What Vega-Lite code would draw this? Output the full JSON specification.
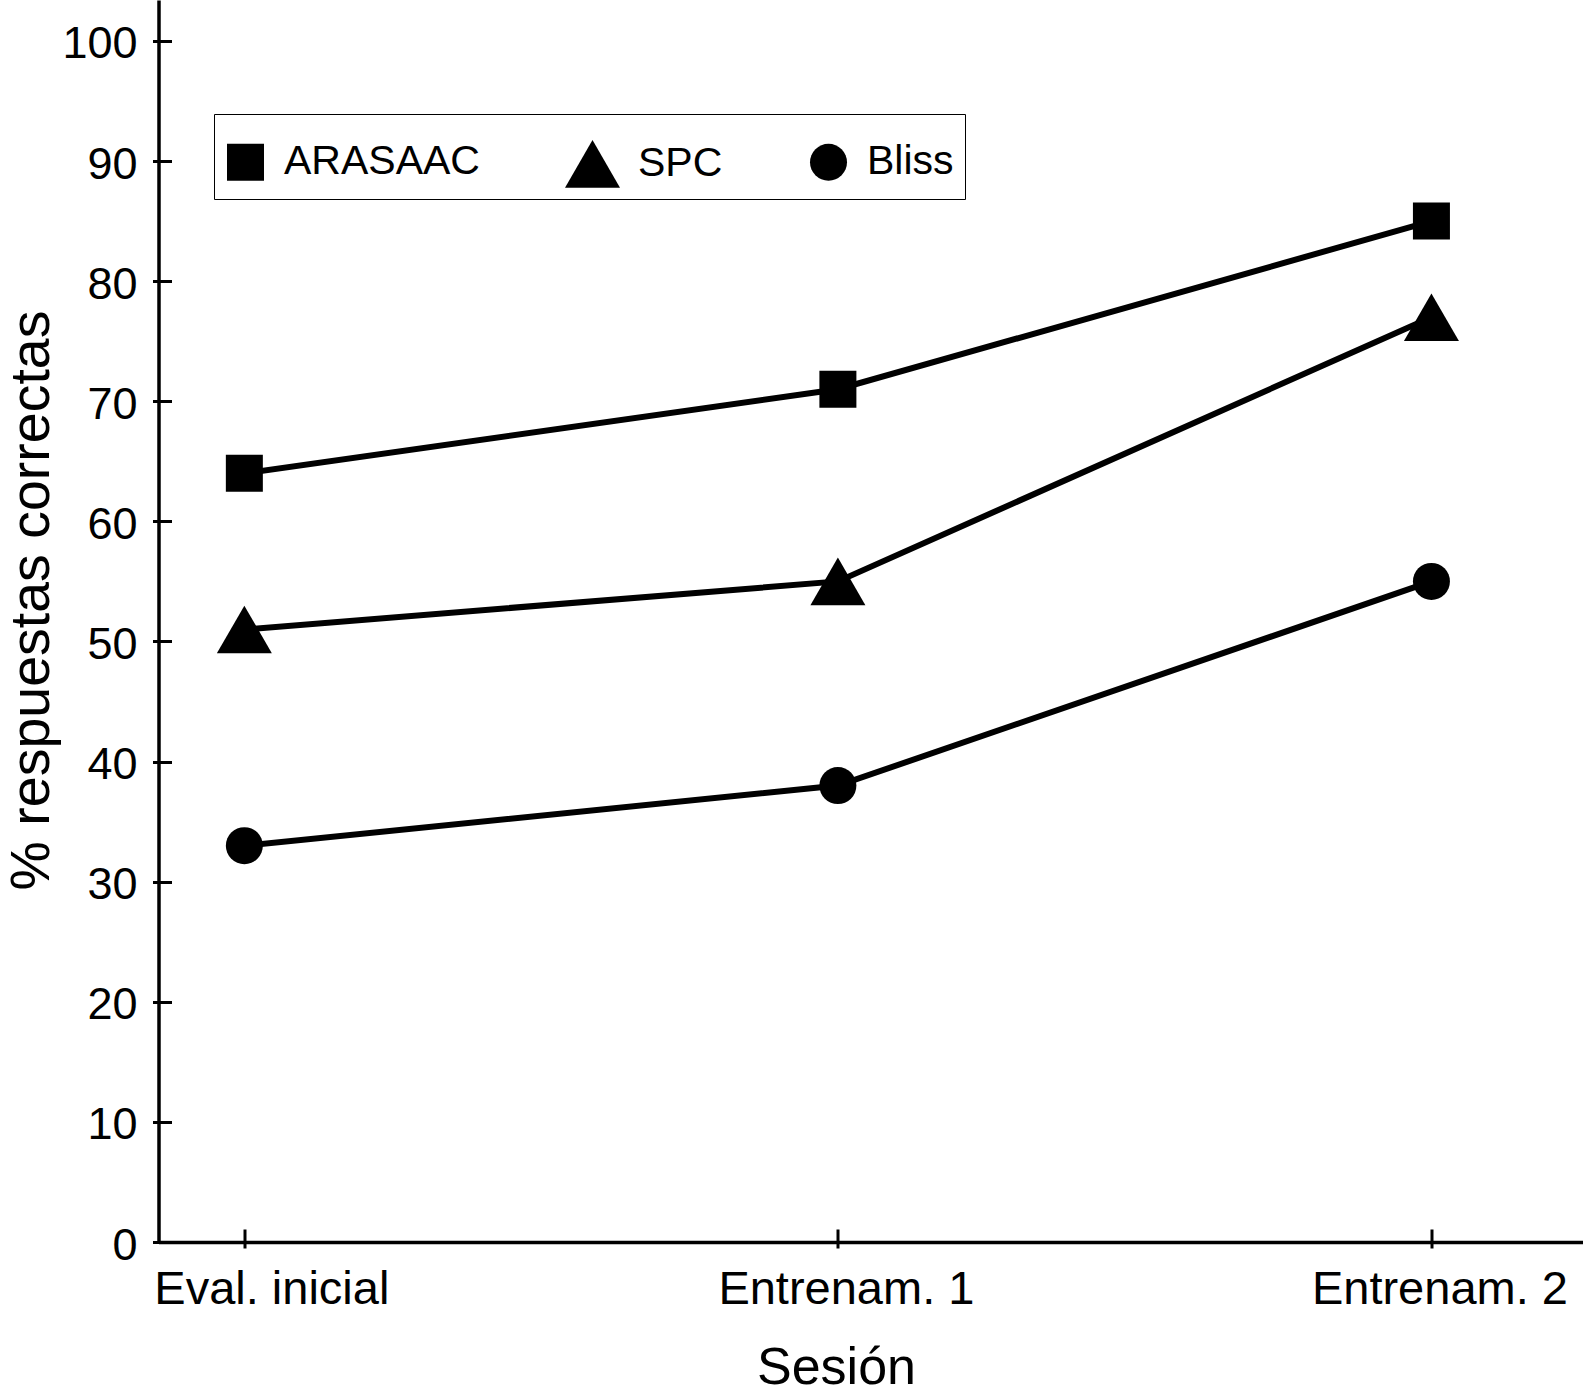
{
  "$schema": "https://vega.github.io/schema/vega-lite/v6.json",
  "width": 1424.5,
  "height": 1242,
  "autosize": {"type": "none"},
  "padding": {"left": 158.5, "top": 0, "right": 0, "bottom": 154},
  "background": "white",
  "config": {
    "view": {"stroke": null},
    "font": "Liberation Sans",
    "axis": {"grid": false, "domainColor": "black", "tickColor": "black", "labelColor": "black", "titleColor": "black", "labelFont": "Liberation Sans", "titleFont": "Liberation Sans", "titleFontWeight": "normal", "labelLimit": 0}
  },
  "data": {
    "values": [
      {"sesion": "Eval. inicial", "serie": "ARASAAC", "pct": 64},
      {"sesion": "Entrenam. 1", "serie": "ARASAAC", "pct": 71},
      {"sesion": "Entrenam. 2", "serie": "ARASAAC", "pct": 85},
      {"sesion": "Eval. inicial", "serie": "SPC", "pct": 51},
      {"sesion": "Entrenam. 1", "serie": "SPC", "pct": 55},
      {"sesion": "Entrenam. 2", "serie": "SPC", "pct": 77},
      {"sesion": "Eval. inicial", "serie": "Bliss", "pct": 33},
      {"sesion": "Entrenam. 1", "serie": "Bliss", "pct": 38},
      {"sesion": "Entrenam. 2", "serie": "Bliss", "pct": 55}
    ]
  },
  "resolve": {"axis": {"x": "independent", "y": "independent"}},
  "layer": [
    {
      "mark": {"type": "line", "color": "black", "strokeWidth": 6},
      "encoding": {
        "x": {
          "field": "sesion", "type": "ordinal",
          "sort": ["Eval. inicial", "Entrenam. 1", "Entrenam. 2"],
          "scale": {"type": "point", "padding": 0.2, "align": 0.3616},
          "axis": {
            "orient": "bottom", "title": "Sesión", "titleFontSize": 52,
            "titleX": 677.5, "titleY": 141, "titleBaseline": "alphabetic",
            "labelFontSize": 47, "labelAngle": 0, "labelPadding": 37,
            "labelOffset": {"condition": {"test": "datum.value === 'Eval. inicial'", "value": 27}, "value": 8},
            "tickSize": -13, "tickWidth": 3, "domainWidth": 3.5
          }
        },
        "y": {
          "field": "pct", "type": "quantitative",
          "scale": {"domain": [0, 103.41], "nice": false, "zero": true},
          "axis": {
            "orient": "left", "title": "% respuestas correctas", "titleFontSize": 55.5,
            "titleX": -110, "titleY": 600, "titleBaseline": "alphabetic",
            "values": [0, 10, 20, 30, 40, 50, 60, 70, 80, 90, 100],
            "labelFontSize": 45, "labelPadding": 34.5, "labelOffset": 3,
            "tickSize": -13, "tickWidth": 3, "domainWidth": 3.5
          }
        },
        "detail": {"field": "serie"}
      }
    },
    {
      "mark": {"type": "point", "filled": true, "color": "black", "opacity": 1, "strokeWidth": 0},
      "encoding": {
        "x": {
          "field": "sesion", "type": "ordinal",
          "sort": ["Eval. inicial", "Entrenam. 1", "Entrenam. 2"],
          "axis": {"orient": "bottom", "title": null, "labels": false, "domain": false, "ticks": true, "tickSize": 6, "tickWidth": 3, "tickColor": "black"}
        },
        "y": {
          "field": "pct", "type": "quantitative",
          "axis": {"orient": "left", "title": null, "labels": false, "domain": false, "ticks": true, "values": [0, 10, 20, 30, 40, 50, 60, 70, 80, 90, 100], "tickSize": 6, "tickWidth": 3, "tickColor": "black"}
        },
        "shape": {
          "field": "serie", "type": "nominal",
          "scale": {"domain": ["ARASAAC", "SPC", "Bliss"], "range": ["square", "triangle-up", "circle"]},
          "legend": {
            "title": " ", "titleFontSize": 11, "titlePadding": 0, "orient": "none", "legendX": 55.5, "legendY": 114,
            "direction": "horizontal", "strokeColor": "black",
            "padding": 11, "columnPadding": 85, "labelOffset": 18, "labelLimit": 0,
            "labelFont": "Liberation Sans", "labelFontSize": 41, "labelColor": "black",
            "symbolFillColor": "black", "symbolStrokeWidth": 0, "symbolOpacity": 1,
            "encode": {"legend": {"update": {"strokeWidth": {"value": 2.7}}}}
          }
        },
        "size": {
          "field": "serie", "type": "nominal",
          "scale": {"type": "ordinal", "domain": ["ARASAAC", "SPC", "Bliss"], "range": [1369, 3025, 1369]},
          "legend": {
            "title": " ", "titleFontSize": 11, "titlePadding": 0, "orient": "none", "legendX": 55.5, "legendY": 114,
            "direction": "horizontal", "strokeColor": "black",
            "padding": 11, "columnPadding": 85, "labelOffset": 18, "labelLimit": 0,
            "labelFont": "Liberation Sans", "labelFontSize": 41, "labelColor": "black",
            "symbolFillColor": "black", "symbolStrokeWidth": 0, "symbolOpacity": 1,
            "encode": {"legend": {"update": {"strokeWidth": {"value": 2.7}}}}
          }
        }
      }
    }
  ]
}
